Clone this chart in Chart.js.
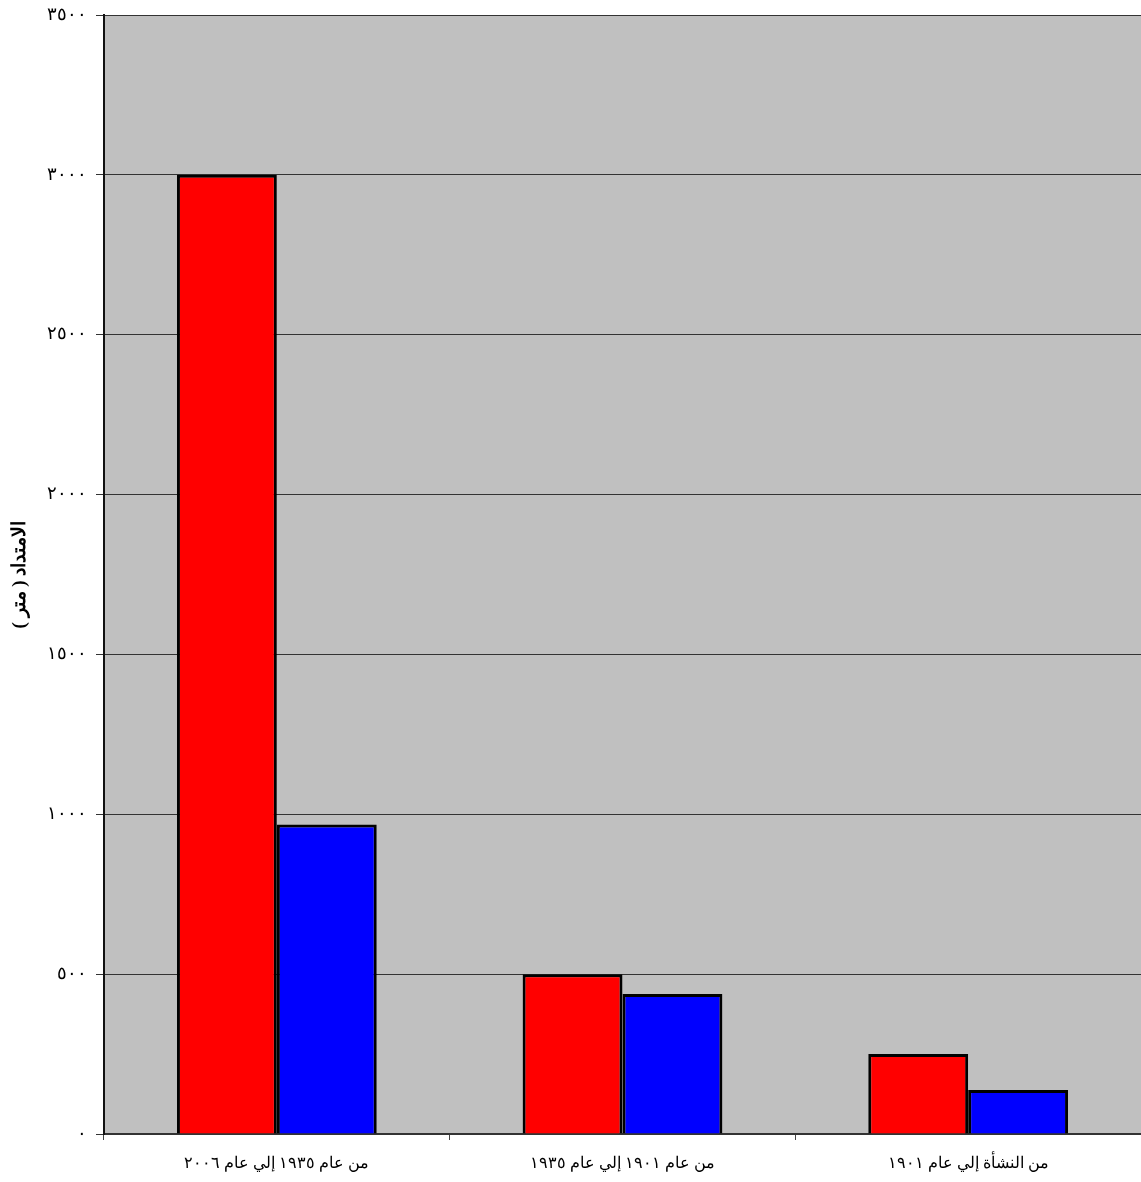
<!DOCTYPE html>
<html lang="ar">
<head>
<meta charset="utf-8">
<title>الامتداد ( متر )</title>
<script src="https://cdn.jsdelivr.net/npm/chart.js@4.4.1/dist/chart.umd.min.js"></script>
<style>
  html, body { margin: 0; padding: 0; background: #ffffff; }
  canvas { display: block; }
</style>
</head>
<body>
<canvas id="chart" width="1141" height="1182"></canvas>
<script>
// Periods shown along the horizontal axis
const categories = [
  'من عام ١٩٣٥ إلي عام ٢٠٠٦',
  'من عام ١٩٠١ إلي عام ١٩٣٥',
  'من النشأة إلي عام ١٩٠١'
];

// Extension in metres for the two series
const redSeries = [3000, 500, 250];
const blueSeries = [968, 438, 138];

// Vertical axis tick labels (0 to 3500 step 500) in Arabic-Indic digits
const yTickValues = [0, 500, 1000, 1500, 2000, 2500, 3000, 3500];
const yTickLabels = ['٠', '٥٠٠', '١٠٠٠', '١٥٠٠', '٢٠٠٠', '٢٥٠٠', '٣٠٠٠', '٣٥٠٠'];

const yTitle = 'الامتداد ( متر )';

const FONT = '"Liberation Serif", "DejaVu Serif", "Noto Sans", serif';

// Grey plot background behind the bars
const plotBackground = {
  id: 'plotBackground',
  beforeDraw(chart) {
    const { ctx, chartArea: a } = chart;
    ctx.save();
    ctx.fillStyle = '#c0c0c0';
    ctx.fillRect(a.left, a.top, a.right - a.left, a.bottom - a.top);
    ctx.restore();
  }
};

new Chart(document.getElementById('chart'), {
  type: 'bar',
  data: {
    labels: categories,
    datasets: [
      {
        data: redSeries,
        backgroundColor: '#ff0000',
        borderColor: '#000000',
        borderWidth: 3,
        borderSkipped: 'bottom'
      },
      {
        data: blueSeries,
        backgroundColor: '#0000ff',
        borderColor: '#000000',
        borderWidth: 3,
        borderSkipped: 'bottom'
      }
    ]
  },
  options: {
    responsive: false,
    animation: false,
    devicePixelRatio: 1,
    layout: { padding: { top: 15, right: 0, left: 0, bottom: 0 } },
    plugins: {
      legend: { display: false },
      tooltip: { enabled: false }
    },
    datasets: {
      bar: { categoryPercentage: 0.578, barPercentage: 1.0 }
    },
    scales: {
      x: {
        offset: true,
        grid: {
          offset: true,
          drawOnChartArea: false,
          drawTicks: true,
          tickLength: 6,
          color: '#444444',
          lineWidth: 1
        },
        border: { display: true, color: '#333333', width: 2 },
        ticks: {
          color: '#000000',
          padding: 14,
          maxRotation: 0,
          autoSkip: false,
          font: { family: FONT, size: 16 }
        },
        afterFit(scale) { scale.height = 48; }
      },
      y: {
        min: 0,
        max: 3500,
        afterBuildTicks(scale) {
          scale.ticks = yTickValues.map(v => ({ value: v }));
        },
        grid: {
          color: '#333333',
          lineWidth: 1,
          drawTicks: true,
          tickLength: 8,
          tickColor: '#333333'
        },
        border: { display: true, color: '#111111', width: 2 },
        ticks: {
          color: '#000000',
          padding: 9,
          font: { family: FONT, size: 18 },
          callback(value) {
            const i = yTickValues.indexOf(value);
            return i >= 0 ? yTickLabels[i] : '';
          }
        },
        title: {
          display: true,
          text: yTitle,
          color: '#000000',
          padding: { top: 9, bottom: 0 },
          font: { family: FONT, size: 19, weight: 'bold' }
        },
        afterFit(scale) {
          scale.width = 104;
          scale.paddingTop = 0;
          scale.paddingBottom = 0;
        }
      }
    }
  },
  plugins: [plotBackground]
});
</script>
</body>
</html>
